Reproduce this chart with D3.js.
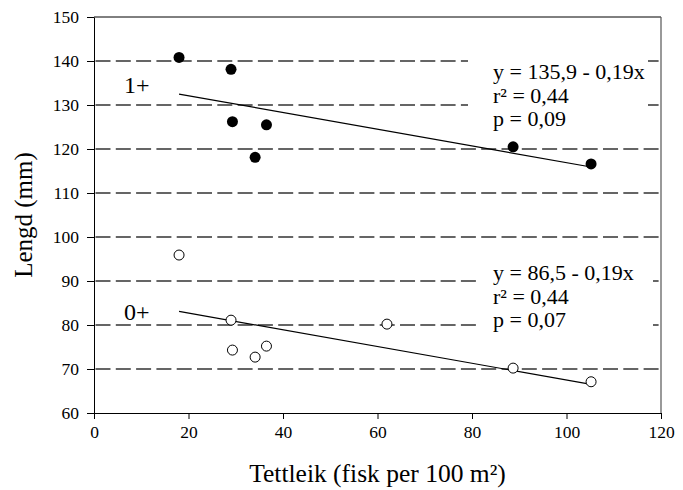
<!DOCTYPE html>
<html>
<head>
<meta charset="utf-8">
<script src="https://cdn.jsdelivr.net/npm/d3@7"></script>
<style>
    body { margin: 0; background: #fff; }
    text { font-family: "Liberation Serif", "Times New Roman", serif; fill: #000; }
</style>
</head>
<body>
<div class="chart"></div>
<script>
// density (fish per 100 m2) and length (mm)
const densityOld = [18.0, 29.0, 29.3, 36.5, 34.1, 88.7, 105.2];
const lengthOld = [140.8, 138.1, 126.2, 125.5, 118.1, 120.5, 116.6];
const densityYoung = [18.0, 29.0, 29.3, 34.1, 36.5, 62.0, 88.7, 105.2];
const lengthYoung = [95.9, 81.1, 74.3, 72.7, 75.2, 80.2, 70.2, 67.1];

// regression: y = a - b x
const fitIntercept = [135.9, 86.5];
const fitSlope = [-0.19, -0.19];
const fitRange = [18.0, 105.5];
const fitText = [
    ['y = 135,9 - 0,19x', 'r\u00B2 = 0,44', 'p = 0,09'],
    ['y = 86,5 - 0,19x', 'r\u00B2 = 0,44', 'p = 0,07'],
];
const groupLabels = ['1+', '0+'];

const xTicks = [0, 20, 40, 60, 80, 100, 120];
const yTicks = [60, 70, 80, 90, 100, 110, 120, 130, 140, 150];
const gridValues = [70, 80, 90, 100, 110, 120, 130, 140];

const width = 683;
const height = 490;
const margin = { top: 17, right: 22, bottom: 77, left: 94 };

const svg = d3.select('.chart').append('svg')
    .attr('width', width)
    .attr('height', height);

const x = d3.scaleLinear().domain([0, 120]).range([margin.left, width - margin.right]);
const y = d3.scaleLinear().domain([60, 150]).range([height - margin.bottom, margin.top]);

// dashed grid
svg.append('g').selectAll('line')
    .data(gridValues)
    .enter()
    .append('line')
    .attr('x1', x(0) + 1.5)
    .attr('x2', x(120))
    .attr('y1', (d) => y(d))
    .attr('y2', (d) => y(d))
    .attr('stroke', '#333')
    .attr('stroke-width', 1.3)
    .attr('stroke-dasharray', '15,5.3');

// frame top / right
svg.append('line')
    .attr('x1', x(0)).attr('x2', x(120))
    .attr('y1', y(150)).attr('y2', y(150))
    .attr('stroke', '#000').attr('stroke-width', 1);
svg.append('line')
    .attr('x1', x(120)).attr('x2', x(120))
    .attr('y1', y(150)).attr('y2', y(60))
    .attr('stroke', '#555').attr('stroke-width', 1.2);

// axes
const xAxis = svg.append('g')
    .attr('transform', 'translate(0,' + y(60) + ')')
    .call(d3.axisBottom(x).tickValues(xTicks).tickSize(6).tickPadding(7).tickSizeOuter(0));
const yAxis = svg.append('g')
    .attr('transform', 'translate(' + x(0) + ',0)')
    .call(d3.axisLeft(y).tickValues(yTicks).tickSize(7).tickPadding(8).tickSizeOuter(0));

[xAxis, yAxis].forEach((ax) => {
    ax.attr('font-family', null);
    ax.select('.domain').attr('stroke', '#000');
    ax.selectAll('.tick line').attr('stroke', '#000');
    ax.selectAll('.tick text')
        .style('font-family', '"Liberation Serif", serif')
        .style('font-size', '17.5px')
        .attr('fill', '#000');
});

// regression lines
const fitGroup = svg.append('g');
fitIntercept.forEach((a, i) => {
    fitGroup.append('line')
        .attr('x1', x(fitRange[0]))
        .attr('y1', y(a + fitSlope[i] * fitRange[0]))
        .attr('x2', x(fitRange[1]))
        .attr('y2', y(a + fitSlope[i] * fitRange[1]))
        .attr('stroke', '#000')
        .attr('stroke-width', 1.2);
});

// equation blocks, with white backing that cuts the grid
const blockX = [468, 477];
const blockRight = [648, 653];
const blockBase = [79, 280];
fitText.forEach((lines, i) => {
    const g = svg.append('g');
    g.append('rect')
        .attr('x', blockX[i])
        .attr('y', blockBase[i] - 20)
        .attr('width', blockRight[i] - blockX[i])
        .attr('height', 70)
        .attr('fill', '#fff');
    g.selectAll('text')
        .data(lines)
        .enter()
        .append('text')
        .attr('x', 493)
        .attr('y', (d, j) => blockBase[i] + j * 23.5)
        .style('font-size', '22px')
        .text((d) => d);
});

// group labels
const labelBase = [93, 320];
groupLabels.forEach((t, i) => {
    svg.append('text')
        .attr('x', 124)
        .attr('y', labelBase[i])
        .style('font-size', '24px')
        .text(t);
});

// points
svg.append('g').selectAll('circle')
    .data(densityOld)
    .enter()
    .append('circle')
    .attr('cx', (d) => x(d))
    .attr('cy', (d, i) => y(lengthOld[i]))
    .attr('r', 5.5)
    .attr('fill', '#000');

svg.append('g').selectAll('circle')
    .data(densityYoung)
    .enter()
    .append('circle')
    .attr('cx', (d) => x(d))
    .attr('cy', (d, i) => y(lengthYoung[i]))
    .attr('r', 5)
    .attr('fill', '#fff')
    .attr('stroke', '#000')
    .attr('stroke-width', 1);

// axis titles
svg.append('text')
    .attr('x', (x(0) + x(120)) / 2)
    .attr('y', 482)
    .attr('text-anchor', 'middle')
    .style('font-size', '25.5px')
    .text('Tettleik (fisk per 100 m\u00B2)');

svg.append('text')
    .attr('transform', 'translate(32,' + (y(60) + y(150)) / 2 + ') rotate(-90)')
    .attr('text-anchor', 'middle')
    .style('font-size', '25px')
    .text('Lengd (mm)');
</script>
</body>
</html>
